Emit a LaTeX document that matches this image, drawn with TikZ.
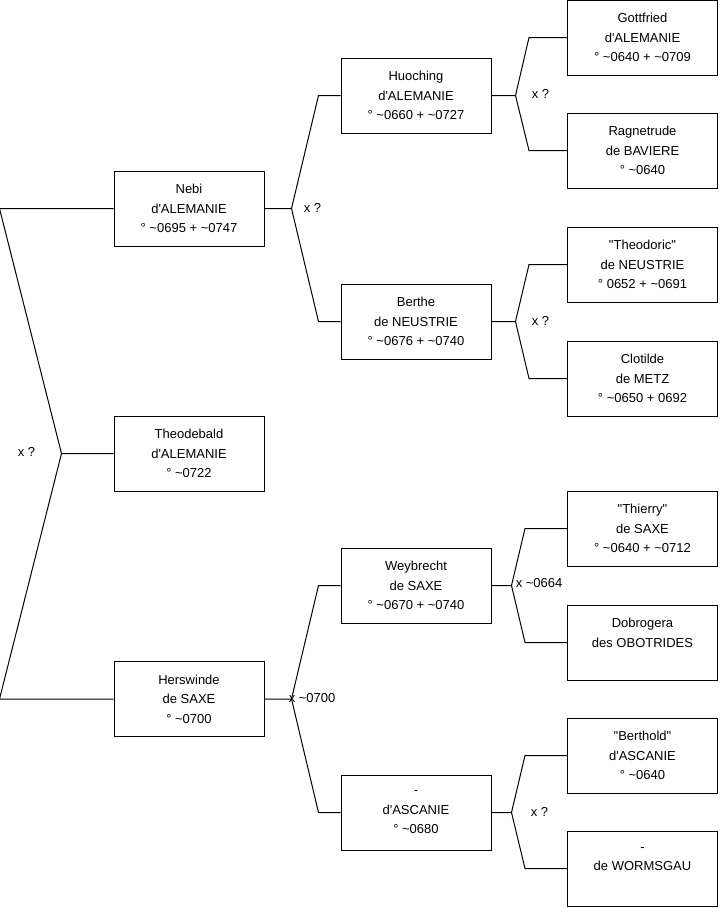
\documentclass[tikz,border=0pt]{standalone}
\usepackage{fontspec}
\usepackage{tikz}
\usetikzlibrary{calc,positioning}
\newfontfamily\boxfont{Liberation Sans}
\newcommand{\tld}{\textasciitilde}

\begin{document}
\begin{tikzpicture}[x=0.75pt, y=-0.75pt,
    font=\boxfont\fontsize{9.75}{14.6}\selectfont,
    person/.style={draw, line width=0.75pt, minimum width=112.5pt, minimum height=56.25pt, align=center},
    link/.style={line width=0.75pt},
    lbl/.style={anchor=west, inner sep=0pt}]
\useasboundingbox (0,0) rectangle (719,908);

\node[person] (nebi) at (189,208.5) {Nebi\\d'ALEMANIE\\° \tld0695 + \tld0747};
\node[person] (theodebald) at (189,453.5) {Theodebald\\d'ALEMANIE\\° \tld0722};
\node[person] (herswinde) at (189,699) {Herswinde\\de SAXE\\° \tld0700};

\node[person] (huoching) at (416,95.5) {Huoching\\d'ALEMANIE\\° \tld0660 + \tld0727};
\node[person] (berthe) at (416,321.5) {Berthe\\de NEUSTRIE\\° \tld0676 + \tld0740};
\node[person] (weybrecht) at (416,585.5) {Weybrecht\\de SAXE\\° \tld0670 + \tld0740};
\node[person] (ascanie) at (416,812.5) {-\\d'ASCANIE\\° \tld0680};

\node[person] (gottfried) at (642.5,37.5) {Gottfried\\d'ALEMANIE\\° \tld0640 + \tld0709};
\node[person] (ragnetrude) at (642.5,150.5) {Ragnetrude\\de BAVIERE\\° \tld0640};
\node[person] (theodoric) at (642.5,264.5) {"Theodoric"\\de NEUSTRIE\\° 0652 + \tld0691};
\node[person] (clotilde) at (642.5,378.5) {Clotilde\\de METZ\\° \tld0650 + 0692};
\node[person] (thierry) at (642.5,528.5) {"Thierry"\\de SAXE\\° \tld0640 + \tld0712};
\node[person] (dobrogera) at (642.5,642.5) {Dobrogera\\des OBOTRIDES\\\mbox{}};
\node[person] (berthold) at (642.5,755.5) {"Berthold"\\d'ASCANIE\\° \tld0640};
\node[person] (wormsgau) at (642.5,868.5) {-\\de WORMSGAU\\\mbox{}};

\coordinate (froot) at ($(theodebald.west)+(-52,0)$);
\coordinate (fnebi) at ($(nebi.east)+(27,0)$);
\coordinate (fherswinde) at ($(herswinde.east)+(27,0)$);
\coordinate (fhuoching) at ($(huoching.east)+(24,0)$);
\coordinate (fberthe) at ($(berthe.east)+(24,0)$);
\coordinate (fweybrecht) at ($(weybrecht.east)+(20,0)$);
\coordinate (fascanie) at ($(ascanie.east)+(20,0)$);

\draw[link] (theodebald.west) -- (froot) -- ($(nebi.west)+(-114,0)$) -- (nebi.west);
\draw[link] (froot) -- ($(herswinde.west)+(-114,0)$) -- (herswinde.west);
\node[lbl] (lroot) at ($(froot)+(-44,-2)$) {x ?};

\draw[link] (nebi.east) -- (fnebi) -- ($(huoching.west)+(-22,0)$) -- (huoching.west);
\draw[link] (fnebi) -- ($(berthe.west)+(-22,0)$) -- (berthe.west);
\node[lbl] (lnebi) at ($(fnebi)+(12,-1)$) {x ?};

\draw[link] (herswinde.east) -- (fherswinde) -- ($(weybrecht.west)+(-22,0)$) -- (weybrecht.west);
\draw[link] (fherswinde) -- ($(ascanie.west)+(-22,0)$) -- (ascanie.west);
\node[lbl] (lherswinde) at ($(fherswinde)+(-3,-1)$) {x \tld0700};

\draw[link] (huoching.east) -- (fhuoching) -- ($(gottfried.west)+(-38,0)$) -- (gottfried.west);
\draw[link] (fhuoching) -- ($(ragnetrude.west)+(-38,0)$) -- (ragnetrude.west);
\node[lbl] (lhuoching) at ($(fhuoching)+(16,-2)$) {x ?};

\draw[link] (berthe.east) -- (fberthe) -- ($(theodoric.west)+(-38,0)$) -- (theodoric.west);
\draw[link] (fberthe) -- ($(clotilde.west)+(-38,0)$) -- (clotilde.west);
\node[lbl] (lberthe) at ($(fberthe)+(16,-1)$) {x ?};

\draw[link] (weybrecht.east) -- (fweybrecht) -- ($(thierry.west)+(-42,0)$) -- (thierry.west);
\draw[link] (fweybrecht) -- ($(dobrogera.west)+(-42,0)$) -- (dobrogera.west);
\node[lbl] (lweybrecht) at ($(fweybrecht)+(4,-2)$) {x \tld0664};

\draw[link] (ascanie.east) -- (fascanie) -- ($(berthold.west)+(-42,0)$) -- (berthold.west);
\draw[link] (fascanie) -- ($(wormsgau.west)+(-42,0)$) -- (wormsgau.west);
\node[lbl] (lascanie) at ($(fascanie)+(19,-1)$) {x ?};
\end{tikzpicture}
\end{document}
